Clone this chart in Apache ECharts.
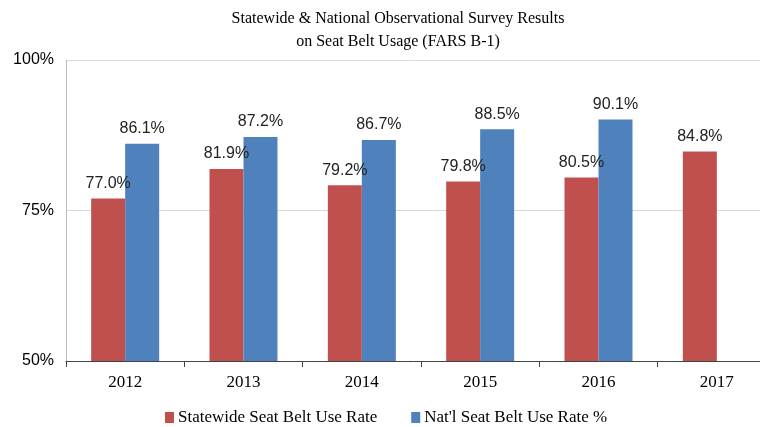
<!DOCTYPE html>
<html>
<head>
<meta charset="utf-8">
<script src="https://cdn.jsdelivr.net/npm/echarts@6/dist/echarts.min.js"></script>
<style>
  html, body { margin: 0; padding: 0; background: #fff; }
  #chart { width: 760px; height: 427px; }
</style>
</head>
<body>
<div id="chart"></div>
<script>
// data
const years = ["2012", "2013", "2014", "2015", "2016", "2017"]
const statewide = [77.0, 81.9, 79.2, 79.8, 80.5, 84.8]
const national = [86.1, 87.2, 86.7, 88.5, 90.1, null]
const yTicks = [50, 75, 100]

const myChart = echarts.init(document.getElementById("chart"))

const label = {
  show: true,
  position: "top",
  distance: 7,
  fontFamily: "Liberation Sans",
  fontSize: 16,
  color: "#222",
  formatter: (p) => p.value.toFixed(1) + "%",
}

const option = {
  animation: false,
  title: {
    text: "Statewide & National Observational Survey Results\non Seat Belt Usage (FARS B-1)",
    left: 393,
    textAlign: "center",
    top: 2,
    textStyle: {
      fontFamily: "Liberation Serif",
      fontWeight: "normal",
      fontSize: 16,
      lineHeight: 23,
      color: "#000",
    },
  },
  legend: {
    data: ["Statewide Seat Belt Use Rate", "Nat'l Seat Belt Use Rate %"],
    top: 404,
    left: 160,
    itemWidth: 9,
    itemHeight: 11,
    itemGap: 34,
    icon: "rect",
    textStyle: { fontFamily: "Liberation Serif", fontSize: 17, color: "#000", padding: [0, 0, 0, -1] },
  },
  grid: { left: 66, top: 60, width: 710, height: 301, outerBoundsMode: "none", containLabel: false },
  xAxis: {
    type: "category",
    data: years,
    axisLine: { lineStyle: { color: "#444" } },
    axisTick: { show: true, length: 6, lineStyle: { color: "#444" } },
    axisLabel: {
      fontFamily: "Liberation Serif",
      fontSize: 17,
      color: "#000",
      margin: 13,
    },
  },
  yAxis: {
    type: "value",
    min: 50,
    max: 100,
    interval: 25,
    axisLine: { show: true, lineStyle: { color: "#bbb" } },
    axisTick: { show: false },
    splitLine: { lineStyle: { color: "#d9d9d9" } },
    axisLabel: {
      fontFamily: "Liberation Sans",
      fontSize: 16,
      color: "#000",
      margin: 12,
      formatter: (v) => (yTicks.includes(v) ? v + "%" : ""),
    },
  },
  series: [
    {
      name: "Statewide Seat Belt Use Rate",
      type: "bar",
      data: statewide,
      barWidth: 34,
      barGap: "0%",
      itemStyle: { color: "#C0504D" },
      label: label,
    },
    {
      name: "Nat'l Seat Belt Use Rate %",
      type: "bar",
      data: national,
      barWidth: 34,
      itemStyle: { color: "#4F81BD" },
      label: label,
    },
  ],
}
myChart.setOption(option)
</script>
</body>
</html>
